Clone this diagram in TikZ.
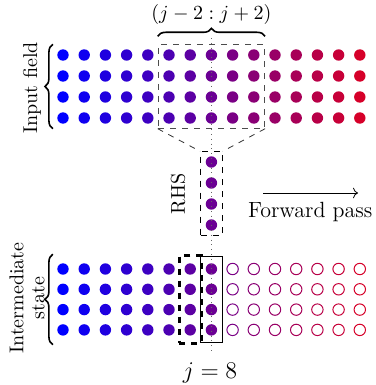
\documentclass[tikz,border=0pt]{standalone}
\usepackage{amsmath}
\usetikzlibrary{arrows.meta, calc, fit, decorations.pathreplacing}

\tikzset{
  dot/.style={circle, inner sep=0pt, minimum size=5.7pt},
  window/.style={draw=black!70, dashed, inner xsep=2.4pt, inner ysep=2.1pt},
  curly/.style={decorate, decoration={brace, amplitude=4pt}, thick},
}

\begin{document}
\begin{tikzpicture}[x=0.5pt, y=-0.5pt]
            \useasboundingbox (0,0) rectangle (375,385);

            % input field
            \foreach \i in {1,...,15}{
                \pgfmathtruncatemacro\mix{6*(\i-1)}
                \foreach \r in {1,...,4}
                    \node[dot, fill=red!\mix!blue] (in-\i-\r) at ({63+21.2*(\i-1)}, {55+21*(\r-1)}) {};
            }

            % intermediate state
            \foreach \i in {1,...,15}{
                \pgfmathtruncatemacro\mix{6*(\i-1)}
                \foreach \r in {1,...,4}{
                    \ifnum\i<9
                        \node[dot, fill=red!\mix!blue] (st-\i-\r) at ({63+21.2*(\i-1)}, {269+20.3*(\r-1)}) {};
                    \else
                        \node[dot, draw=red!\mix!blue, fill=white, line width=0.5pt] (st-\i-\r) at ({63+21.2*(\i-1)}, {269+20.3*(\r-1)}) {};
                    \fi
                }
            }

            % right hand side
            \foreach \r in {1,...,4}
                \node[dot, fill=red!42!blue] (rhs-\r) at (211.4, {162+21*(\r-1)}) {};

            \node[window, fit=(in-6-1) (in-10-4)] (win) {};
            \node[window, draw=black, fit=(rhs-1) (rhs-4)] (rhs) {};
            \draw[dashed, black!80] (win.south west) -- (rhs.north west);
            \draw[dashed, black!80] (win.south east) -- (rhs.north east);

            \node[draw, dashed, line width=1.5pt, inner xsep=2.4pt, inner ysep=3.6pt, fit=(st-7-1) (st-7-4)] (prev) {};
            \node[draw, inner xsep=2.3pt, inner ysep=3.3pt, fit=(st-8-1) (st-8-4)] (cur) {};

            \draw[curly] ([yshift=4pt]win.north west) -- ([yshift=4pt]win.north east)
                node[midway, above=2pt] (span) {$(j-2:j+2)$};

            \coordinate (cut-top) at (211.4, 38);
            \coordinate (cut-bot) at (211.4, 352);
            \draw[dotted, black!60] (cut-top) -- (cut-bot);

            \draw[curly] ([xshift=-2pt]win.south west -| in-1-1.west) -- ([xshift=-2pt]win.north west -| in-1-1.west);
            \draw[curly] ([xshift=-2pt]prev.south west -| st-1-1.west) -- ([xshift=-2pt]prev.north west -| st-1-1.west);

            \node[rotate=90] (inlabel) at (32, 88) {Input field};
            \node[rotate=90, align=center, font={\fontsize{10}{10.5}\selectfont}] (stlabel) at (27, 298) {Intermediate\\state};
            \node[rotate=90] (rhslabel) at (178, 194) {RHS};

            \coordinate (fw-start) at (263, 193);
            \coordinate (fw-end) at (358, 193);
            \draw[->] (fw-start) -- (fw-end);
            \node[anchor=west, font={\fontsize{11}{13}\selectfont}] (fwlabel) at (241, 212) {Forward pass};

            \node[font=\large] (jlabel) at (210, 373) {$j=8$};
        \end{tikzpicture}
\end{document}
